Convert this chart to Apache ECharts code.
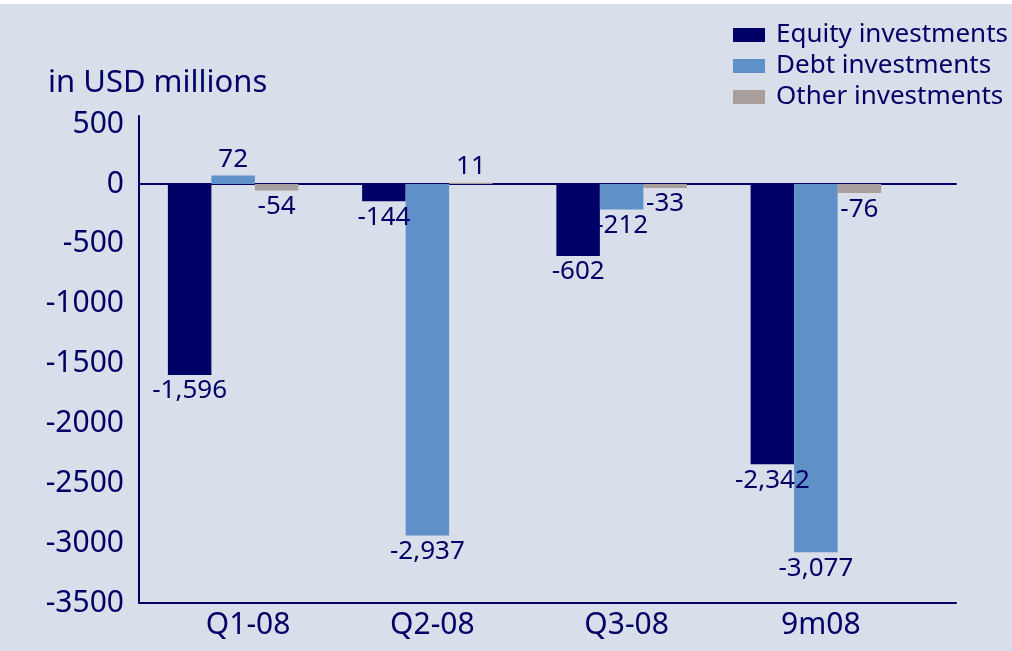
<!DOCTYPE html>
<html>
<head>
<meta charset="utf-8">
<script src="https://cdn.jsdelivr.net/npm/echarts@6/dist/echarts.min.js"></script>
<style>
html,body{margin:0;padding:0;background:#ffffff;}
#c{width:1012px;height:647px;margin-top:4px;background:#D9DFEA;}
</style>
</head>
<body>
<div id="c"></div>
<script>
const categories = ['Q1-08', 'Q2-08', 'Q3-08', '9m08'];
const equity = [-1596, -144, -602, -2342];
const debt = [72, -2937, -212, -3077];
const other = [-54, 11, -33, -76];
const seriesNames = ['Equity investments', 'Debt investments', 'Other investments'];
const colors = ['#000066', '#6090C8', '#A89E9B'];
const yMin = -3500, yMax = 568, yStep = 500;
const unitLabel = 'in USD millions';

const navy = '#000066';
const font = '"Noto Sans", sans-serif';

function fmt(v) {
  const s = Math.abs(v).toString().replace(/\B(?=(\d{3})+(?!\d))/g, ',');
  return (v < 0 ? '-' : '') + s;
}
function items(arr) {
  return arr.map(v => ({
    value: v,
    label: { position: v < 0 ? 'bottom' : 'top' }
  }));
}
function mkSeries(name, data, color) {
  return {
    name: name, type: 'bar', xAxisIndex: 2, yAxisIndex: 1,
    data: items(data), barWidth: 43.5, barGap: '0%',
    itemStyle: { color: color },
    label: {
      show: true, distance: 3, color: navy, fontFamily: font, fontSize: 26,
      formatter: p => fmt(p.value)
    }
  };
}

const chart = echarts.init(document.getElementById('c'), null, { renderer: 'canvas' });
chart.setOption({
  animation: false,
  backgroundColor: '#D9DFEA',
  title: {
    text: unitLabel, left: 48, top: 64, padding: 0,
    textStyle: { color: navy, fontFamily: font, fontSize: 31, fontWeight: 'normal' }
  },
  legend: {
    orient: 'vertical', left: 733, top: 18, padding: 0,
    itemWidth: 32, itemHeight: 14, itemGap: 5,
    icon: 'rect',
    data: seriesNames,
    textStyle: { color: navy, fontFamily: font, fontSize: 26, lineHeight: 25, padding: [0, 0, 0, 6] }
  },
  grid: [
    { left: 139, right: 56, top: 112, bottom: 48 },
    { left: 136, right: 99, top: 112, bottom: 48 }
  ],
  xAxis: [
    { gridIndex: 0, type: 'value', min: 0, max: 1, position: 'bottom',
      axisLine: { show: true, onZero: false, lineStyle: { color: navy, width: 2 } },
      axisTick: { show: false }, axisLabel: { show: false }, splitLine: { show: false } },
    { gridIndex: 0, type: 'value', min: 0, max: 1, position: 'top',
      axisLine: { show: true, onZero: true, lineStyle: { color: navy, width: 2 } },
      axisTick: { show: false }, axisLabel: { show: false }, splitLine: { show: false } },
    { gridIndex: 1, type: 'category', data: categories, position: 'bottom',
      axisLine: { show: false, onZero: false }, axisTick: { show: false }, splitLine: { show: false },
      axisLabel: { color: navy, fontFamily: font, fontSize: 30, margin: 7, padding: [0, 0, 0, 10],
        formatter: (v, i) => (i === 0 ? '{a|' + v + '}' : v),
        rich: { a: { color: navy, fontFamily: font, fontSize: 30, padding: [0, 0, 0, 20] } } } }
  ],
  yAxis: [
    { gridIndex: 0, type: 'value', min: yMin, max: yMax, interval: yStep,
      axisLine: { show: true, lineStyle: { color: navy, width: 2 } },
      axisTick: { show: false }, splitLine: { show: false },
      axisLabel: { color: navy, fontFamily: font, fontSize: 30, margin: 15,
        formatter: v => (v % yStep === 0 ? String(v) : '') } },
    { gridIndex: 1, type: 'value', min: yMin, max: yMax, interval: yStep, show: false,
      splitLine: { show: false } }
  ],
  series: [
    mkSeries(seriesNames[0], equity, colors[0]),
    mkSeries(seriesNames[1], debt, colors[1]),
    mkSeries(seriesNames[2], other, colors[2])
  ]
});
</script>
</body>
</html>
